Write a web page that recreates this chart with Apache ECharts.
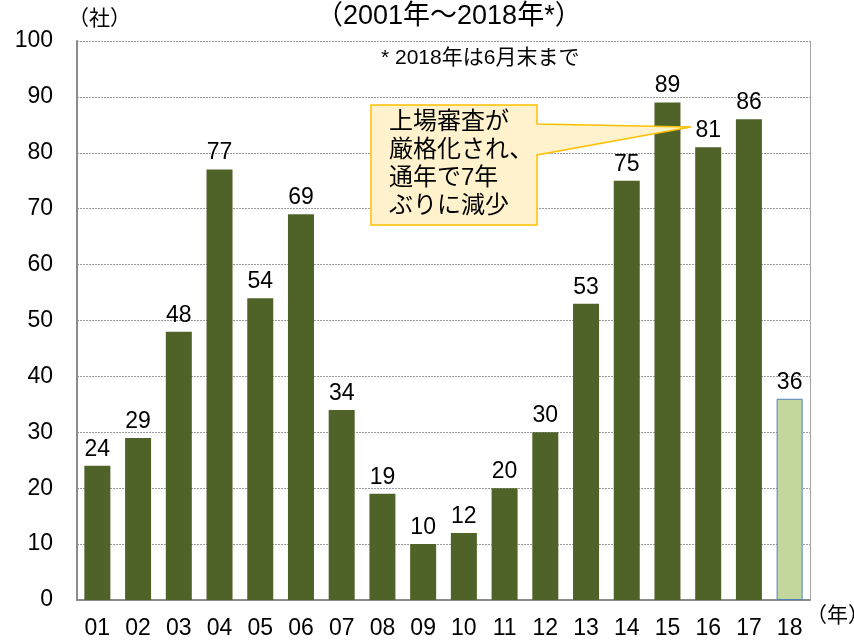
<!DOCTYPE html>
<html><head><meta charset="utf-8">
<script src="https://cdn.jsdelivr.net/npm/echarts@6/dist/echarts.min.js"></script>
<style>html,body{margin:0;padding:0;background:#fff}#c{width:854px;height:640px}</style>
</head><body><div id="c"></div>
<script>
var categories = ['01','02','03','04','05','06','07','08','09','10','11','12','13','14','15','16','17','18'];
var values = [24,29,48,77,54,69,34,19,10,12,20,30,53,75,89,81,86,36];
var yTicks = [0,10,20,30,40,50,60,70,80,90,100];
var FONT = '"Liberation Sans", Arial, "Noto Sans CJK JP", sans-serif';
var chart = echarts.init(document.getElementById('c'));
var data = values.map(function(v, i){
  if (i === values.length - 1) {
    return {value: v, itemStyle: {color: '#C3D69B', borderColor: '#4F81BD', borderWidth: 1}};
  }
  return {value: v};
});
chart.setOption({
  animation: false,
  textStyle: {fontFamily: FONT},
  grid: {left: 77, right: 44, top: 41, bottom: 40, containLabel: false},
  xAxis: {
    type: 'category', data: categories,
    axisLine: {lineStyle: {color: '#8c8c8c', width: 2}},
    axisTick: {show: false},
    axisLabel: {color: '#000', fontSize: 23, margin: 17, fontFamily: FONT}
  },
  yAxis: [{
    type: 'value', min: 0, max: 100, interval: 10,
    axisLine: {show: true, lineStyle: {color: '#8c8c8c', width: 2}},
    axisTick: {show: false},
    axisLabel: {color: '#000', fontSize: 23, margin: 24, fontFamily: FONT},
    splitLine: {lineStyle: {color: '#9a9a9a', type: [2, 1], width: 1}}
  }, {
    type: 'value', min: 0, max: 100, interval: 10, position: 'right',
    axisLine: {show: true, lineStyle: {color: '#a6a6a6', width: 1}},
    axisTick: {show: false}, axisLabel: {show: false}, splitLine: {show: false}
  }],
  series: [{
    type: 'bar', data: data, barWidth: 26,
    itemStyle: {color: '#4F6228'},
    label: {show: true, position: 'top', color: '#000', fontSize: 23, distance: 5, fontFamily: FONT}
  }],
  graphic: [
    {type: 'text', left: 316, top: 3, style: {text: '（2001年～2018年*）', fill: '#000', font: '27px ' + FONT}},
    {type: 'text', left: 68, top: 9, style: {text: '（社）', fill: '#000', font: '21px ' + FONT}},
    {type: 'text', left: 806, top: 606, style: {text: '（年）', fill: '#000', font: '21px ' + FONT}},
    {type: 'text', left: 381, top: 48, style: {text: '* 2018年は6月末まで', fill: '#000', font: '21px ' + FONT}},
    {type: 'polygon', shape: {points: [[371,105],[537,105],[537,124],[691,127],[537,155],[537,225],[371,225]]},
      style: {fill: '#FFF2CC', stroke: '#FFC000', lineWidth: 1.5}, z: 10},
    {type: 'text', left: 389, top: 108, z: 11, style: {text: '上場審査が\n厳格化され、\n通年で7年\nぶりに減少', fill: '#000', font: '24px ' + FONT, lineHeight: 28}}
  ]
});
</script></body></html>
